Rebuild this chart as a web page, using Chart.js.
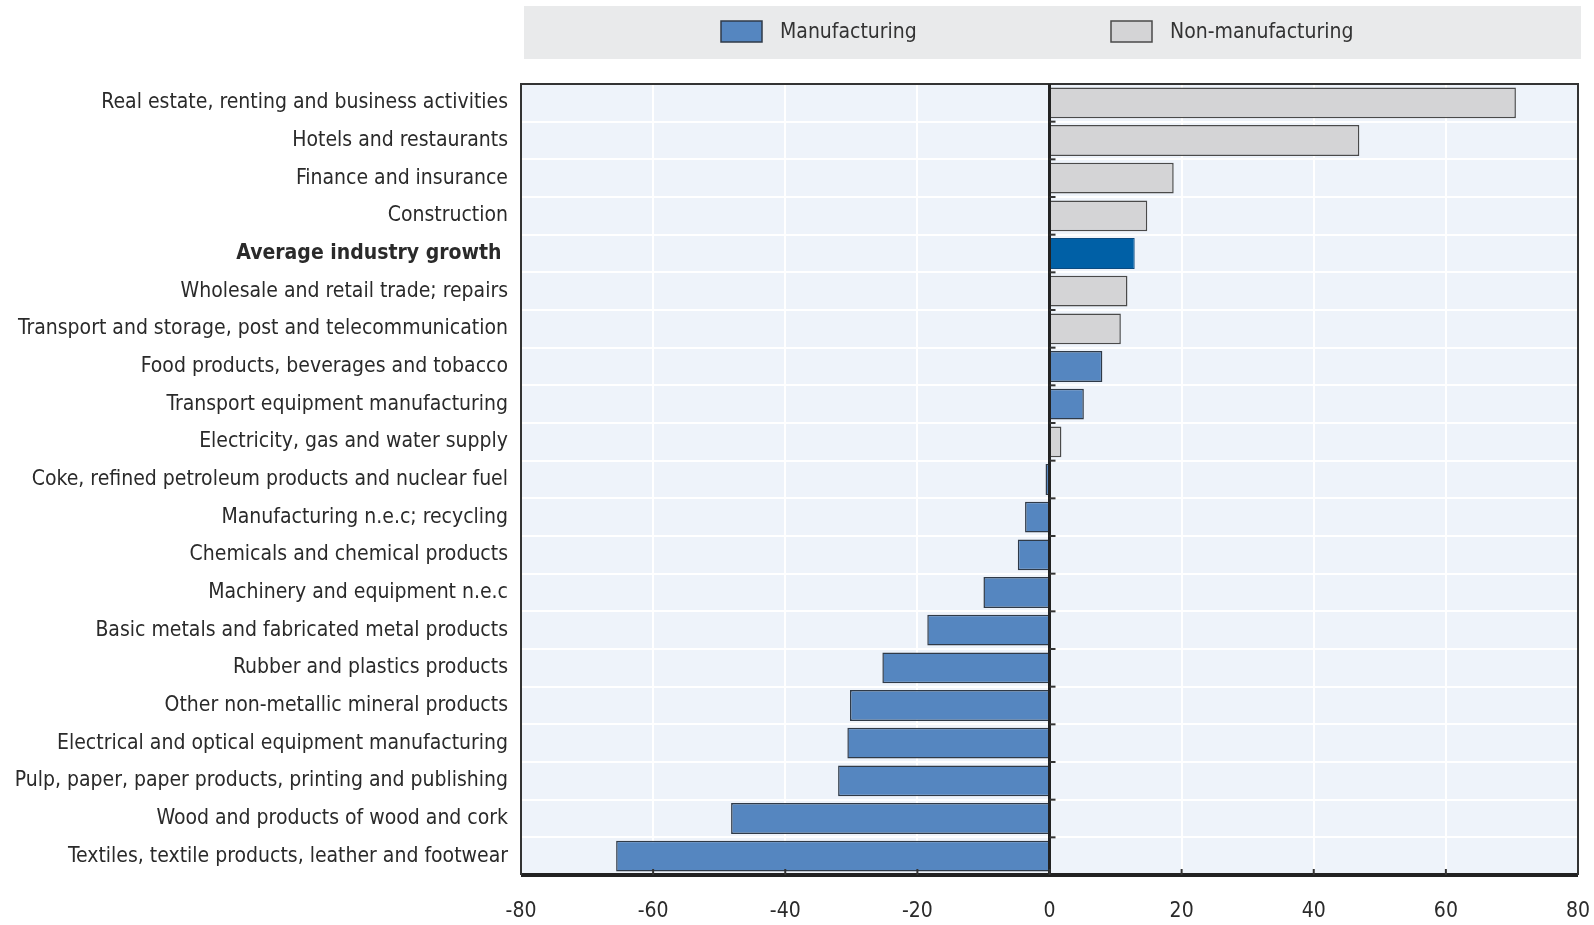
<!DOCTYPE html>
<html>
<head>
<meta charset="utf-8">
<script src="https://cdn.jsdelivr.net/npm/chart.js@4/dist/chart.umd.min.js"></script>
<style>
  html, body { margin: 0; padding: 0; background: #fff; }
  #wrap { width: 1594px; height: 925px; }
</style>
</head>
<body>
<div id="wrap"><canvas id="chart"></canvas></div>
<script>
const categories = [
  'Real estate, renting and business activities',
  'Hotels and restaurants',
  'Finance and insurance',
  'Construction',
  'Average industry growth ',
  'Wholesale and retail trade; repairs',
  'Transport and storage, post and telecommunication',
  'Food products, beverages and tobacco',
  'Transport equipment manufacturing',
  'Electricity, gas and water supply',
  'Coke, refined petroleum products and nuclear fuel',
  'Manufacturing n.e.c; recycling',
  'Chemicals and chemical products',
  'Machinery and equipment n.e.c',
  'Basic metals and fabricated metal products',
  'Rubber and plastics products',
  'Other non-metallic mineral products',
  'Electrical and optical equipment manufacturing',
  'Pulp, paper, paper products, printing and publishing',
  'Wood and products of wood and cork',
  'Textiles, textile products, leather and footwear'
];
// M = manufacturing, N = non-manufacturing, A = average
const sectors = ['N', 'N', 'N', 'N', 'A', 'N', 'N', 'M', 'M', 'N', 'M',
                 'M', 'M', 'M', 'M', 'M', 'M', 'M', 'M', 'M', 'M'];
const growth = [70.6, 46.9, 18.8, 14.8, 12.9, 11.8, 10.8, 8.0, 5.2, 1.8, -0.6,
                -3.7, -4.8, -10.0, -18.5, -25.3, -30.2, -30.6, -32.0, -48.2, -65.6];
const xTicks = [-80, -60, -40, -20, 0, 20, 40, 60, 80];

const FONT = '"Liberation Sans Narrow", "Arial Narrow", "DejaVu Sans Condensed", sans-serif';
const avgIndex = sectors.indexOf('A');

function pick(code) {
  return growth.map((v, i) => sectors[i] === code ? v : null);
}

// background, frame, zero line and small tick marks
const decor = {
  id: 'decor',
  beforeDraw(chart) {
    const { ctx, chartArea: a } = chart;
    ctx.save();
    ctx.fillStyle = '#e9eaeb';
    ctx.fillRect(a.left + 3, 6, a.right - a.left, 53);
    ctx.fillStyle = '#eef3fa';
    ctx.fillRect(a.left, a.top, a.right - a.left, a.bottom - a.top);
    ctx.restore();
  },
  afterDatasetsDraw(chart) {
    const { ctx, chartArea: a, scales: { x, y } } = chart;
    ctx.save();
    // frame
    ctx.strokeStyle = '#333';
    ctx.lineWidth = 2;
    ctx.beginPath();
    ctx.moveTo(a.left, a.bottom);
    ctx.lineTo(a.left, a.top);
    ctx.lineTo(a.right, a.top);
    ctx.lineTo(a.right, a.bottom);
    ctx.stroke();
    ctx.lineWidth = 4;
    ctx.strokeStyle = '#222';
    ctx.beginPath();
    ctx.moveTo(a.left, a.bottom);
    ctx.lineTo(a.right, a.bottom);
    ctx.stroke();
    // zero line
    const x0 = x.getPixelForValue(0);
    ctx.lineWidth = 3;
    ctx.beginPath();
    ctx.moveTo(x0, a.top);
    ctx.lineTo(x0, a.bottom);
    ctx.stroke();
    // ticks on zero line
    ctx.lineWidth = 2;
    ctx.strokeStyle = '#333';
    for (let i = 1; i < categories.length; i++) {
      const yy = y.getPixelForValue(i - 0.5);
      ctx.beginPath();
      ctx.moveTo(x0, yy);
      ctx.lineTo(x0 + 6, yy);
      ctx.stroke();
    }
    // ticks on bottom axis
    xTicks.forEach(v => {
      const xx = x.getPixelForValue(v);
      ctx.beginPath();
      ctx.moveTo(xx, a.bottom);
      ctx.lineTo(xx, a.bottom - 6);
      ctx.stroke();
    });
    ctx.restore();
  },
  afterDraw(chart) {
    const { ctx } = chart;
    const items = chart.data.datasets.filter(d => d.legend);
    const boxX = [721, 1111];
    ctx.save();
    ctx.font = '21px ' + FONT;
    ctx.textBaseline = 'middle';
    items.forEach((d, i) => {
      ctx.fillStyle = d.backgroundColor;
      ctx.fillRect(boxX[i], 21, 41, 21);
      ctx.strokeStyle = d.borderColor;
      ctx.lineWidth = 1.5;
      ctx.strokeRect(boxX[i], 21, 41, 21);
      ctx.fillStyle = '#333';
      ctx.fillText(d.label, boxX[i] + 59, 33);
    });
    ctx.restore();
  }
};

new Chart(document.getElementById('chart'), {
  type: 'bar',
  data: {
    labels: categories,
    datasets: [
      {
        label: 'Manufacturing',
        legend: true,
        data: pick('M'),
        backgroundColor: '#5586c0',
        borderColor: '#2f3a48',
        borderWidth: 1.5,
        grouped: false,
        categoryPercentage: 0.82,
        barPercentage: 1
      },
      {
        label: 'Non-manufacturing',
        legend: true,
        data: pick('N'),
        backgroundColor: '#d4d4d6',
        borderColor: '#4a4a4a',
        borderWidth: 1.5,
        grouped: false,
        categoryPercentage: 0.82,
        barPercentage: 1
      },
      {
        label: 'Average industry growth',
        legend: false,
        data: pick('A'),
        backgroundColor: '#0060a6',
        borderColor: '#0a4a80',
        borderWidth: 1,
        grouped: false,
        categoryPercentage: 0.82,
        barPercentage: 1
      }
    ]
  },
  options: {
    indexAxis: 'y',
    responsive: true,
    maintainAspectRatio: false,
    animation: false,
    layout: { padding: { top: 84, right: 16, left: 0, bottom: 0 } },
    plugins: {
      legend: { display: false },
      tooltip: { enabled: false }
    },
    scales: {
      x: {
        min: -80,
        max: 80,
        afterBuildTicks(scale) { scale.ticks = xTicks.map(v => ({ value: v })); },
        afterFit(scale) {
          scale.height = 50;
          scale.paddingLeft = 0;
          scale.paddingRight = 0;
        },
        grid: { color: '#ffffff', lineWidth: 2, drawTicks: false },
        border: { display: false },
        ticks: {
          padding: 24,
          color: '#2a2a2a',
          font: { family: FONT, size: 21 }
        }
      },
      y: {
        afterFit(scale) { scale.width = 521; },
        grid: { color: '#ffffff', lineWidth: 2, drawTicks: false },
        border: { display: false },
        ticks: {
          padding: 13,
          color: '#2a2a2a',
          autoSkip: false,
          font: ctx => ({
            family: FONT,
            size: 21,
            weight: ctx.index === avgIndex ? 'bold' : 'normal'
          })
        }
      }
    }
  },
  plugins: [decor]
});
</script>
</body>
</html>
